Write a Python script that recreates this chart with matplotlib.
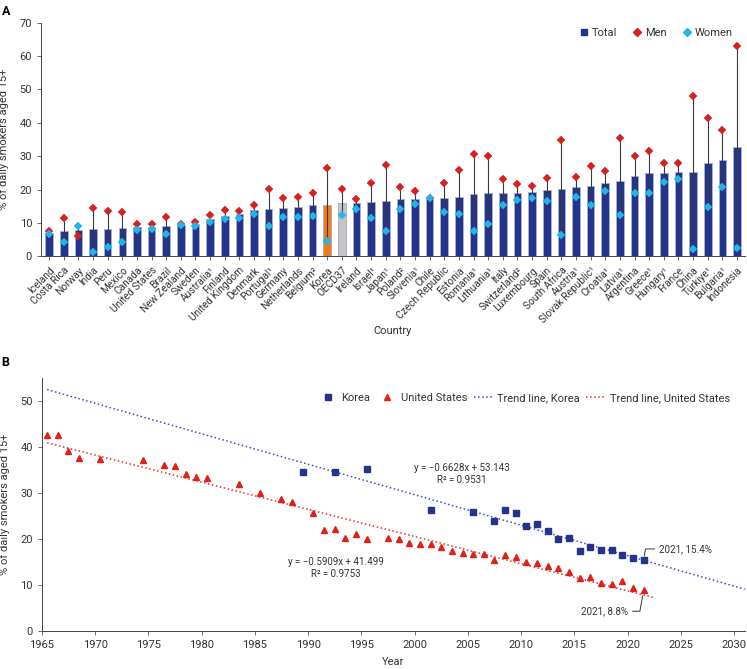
import numpy as np
import matplotlib
matplotlib.use('Agg')
import matplotlib.pyplot as plt
from matplotlib.lines import Line2D

plt.rcParams['font.family'] = ['Roboto', 'DejaVu Sans']

# ── Panel A: daily smokers by country ────────────────────────────────
countries = ['Iceland', 'Costa Rica', 'Norway', 'India', 'Peru', 'Mexico', 'Canada',
             'United States', 'Brazil', 'New Zealand', 'Sweden', 'Australia¹', 'Finland',
             'United Kingdom', 'Denmark', 'Portugal¹', 'Germany', 'Netherlands', 'Belgium²',
             'Korea', 'OECD37', 'Ireland', 'Israel¹', 'Japan¹', 'Poland²', 'Slovenia¹',
             'Chile', 'Czech Republic', 'Estonia', 'Romania¹', 'Lithuania¹', 'Italy',
             'Switzerland²', 'Luxembourg', 'Spain', 'South Africa', 'Austria¹',
             'Slovak Republic¹', 'Croatia¹', 'Latvia¹', 'Argentina', 'Greece¹', 'Hungary¹',
             'France', 'China', 'Türkiye¹', 'Bulgaria¹', 'Indonesia']
total = [7.0, 7.7, 7.9, 8.1, 8.1, 8.5, 8.8, 8.8, 9.1, 9.4, 9.7, 11.1, 12.0, 12.7, 13.9,
         14.1, 14.5, 14.7, 15.3, 15.3, 16.0, 15.9, 16.3, 16.7, 17.1, 17.3, 17.7, 17.5,
         17.9, 18.7, 18.9, 19.1, 19.1, 19.3, 19.9, 20.3, 20.7, 21.1, 22.1, 22.7, 24.1,
         24.9, 24.9, 25.3, 25.3, 28.1, 28.7, 32.8]
men = [7.5, 11.4, 6.2, 14.4, 13.5, 13.3, 9.7, 9.7, 11.8, 9.6, 10.3, 12.4, 14.0, 13.6, 15.3,
       20.3, 17.5, 17.7, 19.1, 26.5, 20.1, 17.1, 21.9, 27.3, 20.9, 19.5, 17.6, 22.1,
       25.9, 30.7, 30.1, 23.3, 21.7, 21.1, 23.5, 34.9, 23.7, 27.1, 25.7, 35.5, 29.9,
       31.5, 27.9, 27.9, 48.0, 41.5, 37.9, 63.0]
women = [6.8, 4.4, 9.1, 1.4, 2.9, 4.3, 7.9, 8.1, 6.6, 9.3, 9.1, 10.2, 11.1, 11.6, 12.7,
         9.1, 11.9, 11.9, 12.1, 4.5, 12.3, 14.1, 11.5, 7.7, 14.1, 15.7, 17.5, 13.3,
         12.7, 7.5, 9.7, 15.5, 16.9, 17.5, 16.5, 6.4, 17.9, 15.5, 19.7, 12.3, 18.9,
         19.1, 22.4, 23.1, 2.1, 14.8, 20.9, 2.5]

# ── Panel B: Korea vs United States trend ────────────────────────────
korea_years = [1989, 1992, 1995, 2001, 2005, 2007, 2008, 2009, 2010, 2011, 2012, 2013,
               2014, 2015, 2016, 2017, 2018, 2019, 2020, 2021]
korea_rate = [34.6, 34.6, 35.2, 26.2, 25.9, 24.0, 26.3, 25.6, 22.9, 23.3, 21.7, 19.9,
              20.1, 17.3, 18.3, 17.5, 17.5, 16.4, 15.8, 15.4]
us_years = [1965, 1966, 1967, 1968, 1970, 1974, 1976, 1977, 1978, 1979, 1980, 1983, 1985,
            1987, 1988, 1990, 1991, 1992, 1993, 1994, 1995, 1997, 1998, 1999, 2000, 2001,
            2002, 2003, 2004, 2005, 2006, 2007, 2008, 2009, 2010, 2011, 2012, 2013, 2014,
            2015, 2016, 2017, 2018, 2019, 2020, 2021]
us_rate = [42.5, 42.6, 39.1, 37.7, 37.3, 37.1, 36.0, 35.9, 34.1, 33.5, 33.2, 32.0, 30.0,
           28.7, 28.1, 25.6, 22.0, 22.2, 20.3, 21.0, 20.0, 20.2, 19.9, 19.1, 18.9, 18.8,
           18.3, 17.4, 17.0, 16.8, 16.7, 15.4, 16.4, 16.0, 14.9, 14.8, 14.1, 13.7, 12.8,
           11.4, 11.8, 10.4, 10.1, 10.9, 9.3, 8.8]
korea_fit = (-0.6628, 53.143, 0.9531)   # slope, intercept, R², x = year - 1964
us_fit = (-0.5909, 41.499, 0.9753)

NAVY = '#25348b'
RED = '#d9201f'
CYAN = '#22b5ea'
TXT = '#333333'

fig = plt.figure(figsize=(7.47, 6.69), dpi=100)

# ── A ────────────────────────────────────────────────────────────────
ax1 = fig.add_axes([0.055, 0.617, 0.942, 0.349])
x = np.arange(len(countries))
bar_colors = [NAVY] * len(countries)
bar_colors[countries.index('Korea')] = '#f07c18'
bar_colors[countries.index('OECD37')] = '#c4c4c4'
ax1.bar(x, total, width=0.52, color=bar_colors, edgecolor='#a9aed4', linewidth=0.7, zorder=1)
ax1.vlines(x, women, men, color='#3a3a3a', linewidth=0.8, zorder=2)
ax1.plot(x, men, 'D', color=RED, ms=4.2, mec=RED, mew=0.3, zorder=3)
ax1.plot(x, women, 'D', color=CYAN, ms=4.2, mec=CYAN, mew=0.3, zorder=4)

ax1.set_xlim(-0.55, len(countries) - 0.47)
ax1.set_ylim(0, 70)
ax1.set_yticks(range(0, 71, 10))
ax1.set_xticks(x)
ax1.set_xticklabels(countries, rotation=45, ha='right', rotation_mode='anchor', fontsize=7.3, color=TXT)
ax1.tick_params(axis='both', length=3, width=0.6, color='#555555', labelcolor=TXT)
ax1.tick_params(axis='y', labelsize=8)
for s in ['top', 'right']:
    ax1.spines[s].set_visible(False)
for s in ['left', 'bottom']:
    ax1.spines[s].set_linewidth(0.7)
    ax1.spines[s].set_color('#444444')
ax1.set_ylabel('% of daily smokers aged 15+', fontsize=8, color=TXT)
ax1.yaxis.set_label_coords(-0.045, 0.5)
ax1.set_xlabel('Country', fontsize=8, color=TXT)
ax1.xaxis.set_label_coords(0.5, -0.3)

handles_a = [Line2D([], [], ls='none', marker='s', color=NAVY, ms=5),
             Line2D([], [], ls='none', marker='D', color=RED, ms=4.5),
             Line2D([], [], ls='none', marker='D', color=CYAN, ms=4.5)]
ax1.legend(handles_a, ['Total', 'Men', 'Women'], ncol=3, frameon=False, fontsize=8,
           loc='center right', bbox_to_anchor=(0.997, 0.955), handletextpad=0.2,
           columnspacing=1.3, handlelength=1.0, labelcolor=TXT)
fig.text(0.002, 0.993, 'A', fontsize=9, fontweight='bold', va='top')

# ── B ────────────────────────────────────────────────────────────────
ax2 = fig.add_axes([0.056, 0.057, 0.941, 0.378])
kx = np.array(korea_years) + 0.5
ux = np.array(us_years) + 0.5
ax2.plot(kx, korea_rate, 's', color=NAVY, ms=4.5, ls='none', zorder=3, label='Korea')
ax2.plot(ux, us_rate, '^', color='#e0201d', ms=5, ls='none', zorder=3, label='United States')

tk = np.linspace(1, 66.5, 50)
ax2.plot(tk + 1964.5, korea_fit[0] * tk + korea_fit[1], ':', color='#3b4fc0', lw=1.1,
         label='Trend line, Korea', zorder=2)
tu = np.linspace(1, 57.9, 50)
ax2.plot(tu + 1964.5, us_fit[0] * tu + us_fit[1], ':', color='#e8302a', lw=1.1,
         label='Trend line, United States', zorder=2)

ax2.set_xlim(1965, 2031)
ax2.set_ylim(0, 55)
ax2.set_xticks(range(1965, 2031, 5))
ax2.set_yticks(range(0, 51, 10))
ax2.tick_params(axis='both', length=3, width=0.6, color='#555555', labelcolor=TXT, labelsize=8)
for s in ['top', 'right']:
    ax2.spines[s].set_visible(False)
for s in ['left', 'bottom']:
    ax2.spines[s].set_linewidth(0.7)
    ax2.spines[s].set_color('#444444')
ax2.set_ylabel('% of daily smokers aged 15+', fontsize=8, color=TXT)
ax2.yaxis.set_label_coords(-0.045, 0.5)
ax2.set_xlabel('Year', fontsize=8, color=TXT)
ax2.xaxis.set_label_coords(0.5, -0.105)
ax2.legend(ncol=4, frameon=False, fontsize=8, loc='center right', bbox_to_anchor=(0.993, 0.92),
           handletextpad=0.3, columnspacing=0.6, handlelength=1.8, labelcolor=TXT)

ax2.text(2004.4, 34.1, 'y = \u22120.6628x + 53.143\nR\u00b2 = 0.9531', fontsize=7, color=TXT,
         ha='center', va='center', linespacing=1.3)
ax2.text(1992.6, 13.7, 'y = \u22120.5909x + 41.499\nR\u00b2 = 0.9753', fontsize=7, color=TXT,
         ha='center', va='center', linespacing=1.3)

ax2.annotate(f'{korea_years[-1]}, {korea_rate[-1]}%', xy=(kx[-1], korea_rate[-1]),
             xytext=(11, 8), textcoords='offset points', fontsize=7, color=TXT,
             va='center', ha='left',
             arrowprops=dict(arrowstyle='-', color='#333333', lw=0.7, shrinkA=1, shrinkB=3,
                             connectionstyle='angle,angleA=180,angleB=80,rad=0'))
ax2.annotate(f'{us_years[-1]}, {us_rate[-1]}%', xy=(ux[-1], us_rate[-1]),
             xytext=(-11, -15), textcoords='offset points', fontsize=7, color=TXT,
             va='center', ha='right',
             arrowprops=dict(arrowstyle='-', color='#333333', lw=0.7, shrinkA=1, shrinkB=4,
                             connectionstyle='angle,angleA=0,angleB=80,rad=0'))

fig.text(0.002, 0.468, 'B', fontsize=9, fontweight='bold', va='top')

plt.savefig('out.png', dpi=100)
